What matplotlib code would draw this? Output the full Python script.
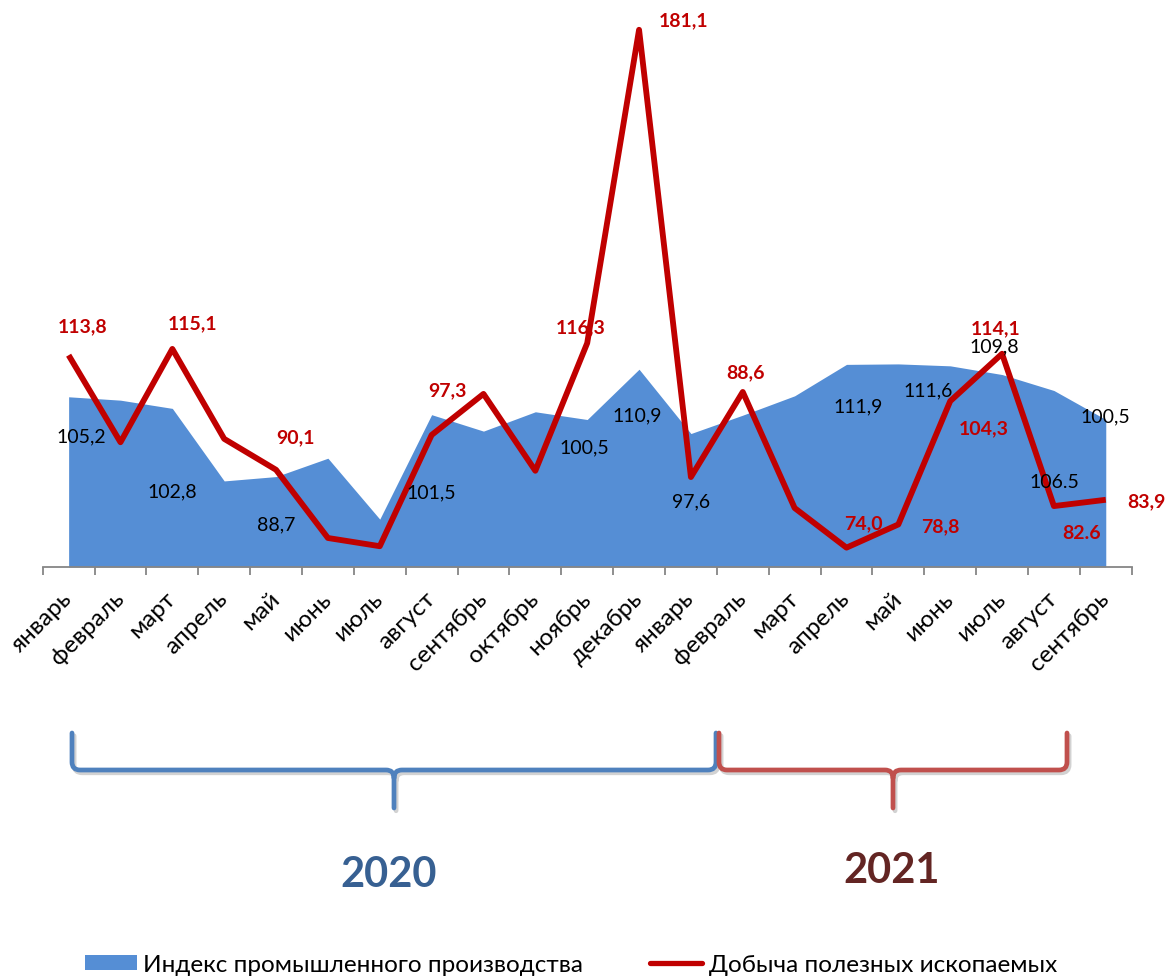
import matplotlib
matplotlib.use("Agg")
import matplotlib.pyplot as plt
import numpy as np
from matplotlib.path import Path
from matplotlib.patches import PathPatch, Patch
from matplotlib.lines import Line2D
import matplotlib.transforms as mtransforms
import matplotlib.patheffects as pe

plt.rcParams['font.family'] = ['Lato', 'DejaVu Sans']

# ---------------- data ----------------
months = ['январь', 'февраль', 'март', 'апрель', 'май', 'июнь', 'июль', 'август',
          'сентябрь', 'октябрь', 'ноябрь', 'декабрь',
          'январь', 'февраль', 'март', 'апрель', 'май', 'июнь', 'июль', 'август', 'сентябрь']

industrial_index = [105.2, 104.5, 102.8, 87.8, 88.7, 92.5, 79.9, 101.5, 98.1, 102.1, 100.5, 110.9,
                    97.6, 101.4, 105.4, 111.9, 112.0, 111.6, 109.8, 106.5, 100.5]
mining = [113.8, 95.8, 115.1, 96.5, 90.1, 76.0, 74.3, 97.3, 105.8, 89.9, 116.3, 181.1,
          88.6, 106.2, 82.2, 74.0, 78.8, 104.3, 114.1, 82.6, 83.9]

series_names = ['Индекс промышленного производства', 'Добыча полезных ископаемых']
years = ['2020', '2021']

# data labels (index of point, text)
index_label_idx = [0, 2, 4, 7, 10, 11, 12, 15, 17, 18, 19, 20]
index_label_txt = ['105,2', '102,8', '88,7', '101,5', '100,5', '110,9', '97,6', '111,9',
                   '111,6', '109,8', '106.5', '100,5']
mining_label_idx = [0, 2, 4, 7, 10, 11, 12, 15, 16, 17, 18, 19, 20]
mining_label_txt = ['113,8', '115,1', '90,1', '97,3', '116,3', '181,1', '88,6', '74,0',
                    '78,8', '104,3', '114,1', '82.6', '83,9']

# ---------------- layout (pixels, image coordinates: y downwards) ----------------
W, H = 1168, 978
index_label_off = [(13, 39), (0, 82), (0, 47), (0, 77), (-3, 27), (-2, 46), (0, 67),
                   (12, 41), (-22, 24), (-8, -29), (0, 91), (0, -4)]
mining_label_off = [(14, -29), (20, -26), (19, -33), (16, -45), (-7, -16), (45, -10),
                    (55, -105), (17, -25), (42, 1), (34, 27), (-6, -26), (28, 26), (41, 1)]

BLUE = '#558ED5'
RED = '#C00000'
GRAY = '#868686'

fig = plt.figure(figsize=(W / 100, H / 100), dpi=100)
ax_left, ax_right, ax_bottom, ax_top = 42.7, 1131.7, 568.0, 11.9
ax = fig.add_axes([ax_left / W, 1 - ax_bottom / H, (ax_right - ax_left) / W, (ax_bottom - ax_top) / H])

x = np.arange(len(months))
ymin, ymax = 70, 185
ax.fill_between(x, ymin, industrial_index, color=BLUE, lw=0, zorder=1)
ax.plot(x, mining, color=RED, lw=4.2, solid_joinstyle='round', solid_capstyle='butt', zorder=3)
ax.set_xlim(-0.5, len(months) - 0.5)
ax.set_ylim(ymin, ymax)

for s in ['top', 'right', 'left']:
    ax.spines[s].set_visible(False)
ax.spines['bottom'].set_color(GRAY)
ax.spines['bottom'].set_linewidth(1.3)
ax.set_yticks([])

ax.set_xticks(np.arange(-0.5, len(months), 1.0))
ax.set_xticklabels([])
ax.tick_params(axis='x', which='major', length=5.8, width=1.3, color=GRAY, direction='out')
ax.set_xticks(x, minor=True)
ax.set_xticklabels(months, minor=True, rotation=45, ha='right', va='center',
                   rotation_mode='anchor', fontsize=17.5)
ax.tick_params(axis='x', which='minor', length=0, pad=20)

for i, t, (dx, dy) in zip(index_label_idx, index_label_txt, index_label_off):
    ax.annotate(t, xy=(i, industrial_index[i]), xytext=(dx, -dy), textcoords='offset pixels',
                ha='center', va='center', fontsize=14, color='black', zorder=5)
for i, t, (dx, dy) in zip(mining_label_idx, mining_label_txt, mining_label_off):
    ax.annotate(t, xy=(i, mining[i]), xytext=(dx, -dy), textcoords='offset pixels',
                ha='center', va='center', fontsize=14, color=RED, fontweight='bold', zorder=5)

# ---------------- braces ----------------
trans = mtransforms.blended_transform_factory(ax.transData, fig.transFigure)
px_per_unit = (ax_right - ax_left) / len(months)


def fy(ypx):
    return 1 - ypx / H


def brace(x0, x1, color):
    r = 8 / px_per_unit
    rv = 8
    xm = (x0 + x1) / 2
    ytop, yh, ytip = 734, 771, 809
    verts = [(x0, fy(ytop)), (x0, fy(yh - rv)), (x0, fy(yh)), (x0 + r, fy(yh)),
             (xm - r, fy(yh)), (xm, fy(yh)), (xm, fy(yh + rv)), (xm, fy(ytip)),
             (xm, fy(yh + rv)), (xm, fy(yh)), (xm + r, fy(yh)),
             (x1 - r, fy(yh)), (x1, fy(yh)), (x1, fy(yh - rv)), (x1, fy(ytop))]
    codes = [Path.MOVETO, Path.LINETO, Path.CURVE3, Path.CURVE3,
             Path.LINETO, Path.CURVE3, Path.CURVE3, Path.LINETO,
             Path.MOVETO, Path.CURVE3, Path.CURVE3,
             Path.LINETO, Path.CURVE3, Path.CURVE3, Path.LINETO]
    p = PathPatch(Path(verts, codes), fill=False, edgecolor=color, lw=3.4,
                  transform=trans, clip_on=False, capstyle='round', joinstyle='round',
                  path_effects=[pe.SimpleLineShadow(offset=(1.5, -2.0), shadow_color='#7f7f7f', alpha=0.35),
                                pe.Normal()])
    fig.add_artist(p)


def data_x(xpx):
    return (xpx - ax_left) / px_per_unit - 0.5


brace(data_x(72), data_x(716), '#4F81BD')
brace(data_x(719), data_x(1067), '#C0504D')

fig.text(389 / W, fy(875), years[0], ha='center', va='center', fontsize=30,
         fontweight='bold', color='#376092')
fig.text(892 / W, fy(871), years[1], ha='center', va='center', fontsize=30,
         fontweight='bold', color='#632523')

# ---------------- legend ----------------
handles = [Patch(facecolor=BLUE, edgecolor='none'),
           Line2D([], [], color=RED, lw=3.8, solid_capstyle='round')]
fig.legend(handles, series_names, loc='lower left', bbox_to_anchor=(85 / W, 0.002),
           ncol=2, frameon=False, fontsize=17.5, handlelength=2.15, handletextpad=0.25,
           columnspacing=2.75, borderpad=0.0, borderaxespad=0.0, handleheight=0.6)

fig.savefig('out.png', dpi=100)
